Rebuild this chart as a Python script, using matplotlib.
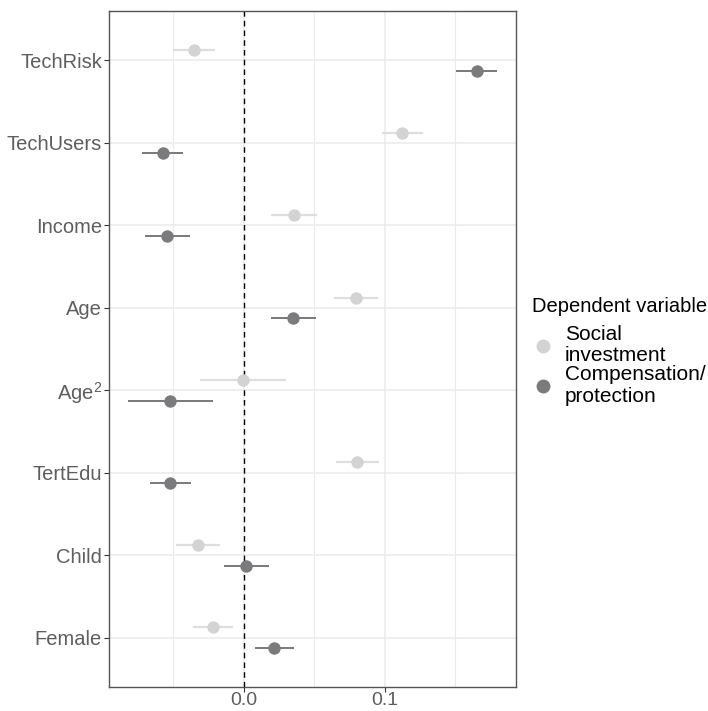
import numpy as np
import matplotlib
matplotlib.use("Agg")
import matplotlib.pyplot as plt
from matplotlib.ticker import FixedLocator
from matplotlib.lines import Line2D

plt.rcParams['font.family'] = ['Liberation Sans', 'DejaVu Sans']
plt.rcParams['mathtext.fontset'] = 'custom'
plt.rcParams['mathtext.rm'] = 'Liberation Sans'

# coefficient estimates, listed top to bottom
terms = ['TechRisk', 'TechUsers', 'Income', 'Age', 'Age$\\mathregular{^2}$',
         'TertEdu', 'Child', 'Female']

social_est = [-0.0352, 0.1123, 0.0352, 0.0797, -0.0010, 0.0804, -0.0326, -0.0218]
social_lo = [-0.0501, 0.0979, 0.0191, 0.0641, -0.0312, 0.0655, -0.0480, -0.0359]
social_hi = [-0.0208, 0.1267, 0.0515, 0.0953, 0.0298, 0.0955, -0.0168, -0.0078]

comp_est = [0.1655, -0.0577, -0.0544, 0.0350, -0.0525, -0.0525, 0.0017, 0.0215]
comp_lo = [0.1507, -0.0721, -0.0702, 0.0194, -0.0825, -0.0667, -0.0140, 0.0076]
comp_hi = [0.1796, -0.0433, -0.0385, 0.0508, -0.0222, -0.0374, 0.0175, 0.0357]

light = '#d3d3d3'
dark = '#7b7b7e'

fig = plt.figure(figsize=(7.08, 7.11), dpi=100)
ax = fig.add_axes([0.154, 0.0335, 0.5748, 0.951])

ypos = np.arange(len(terms), 0, -1)
dodge = 0.125

ax.hlines(ypos + dodge, social_lo, social_hi, color='#dedede', lw=1.6, zorder=3)
ax.scatter(social_est, ypos + dodge, s=80, color=light, zorder=4, linewidths=0)
ax.hlines(ypos - dodge, comp_lo, comp_hi, color='#6e6e70', lw=1.3, zorder=3)
ax.scatter(comp_est, ypos - dodge, s=80, color=dark, zorder=4, linewidths=0)

ax.axvline(0, color='black', lw=1.0, ls=(0, (4, 3)), zorder=2)

ax.set_xlim(-0.0957, 0.1929)
ax.set_ylim(0.4, len(terms) + 0.6)
ax.set_xticks([0.0, 0.1])
ax.set_xticklabels(['0.0', '0.1'])
ax.xaxis.set_minor_locator(FixedLocator([-0.05, 0.05, 0.15]))
ax.set_yticks(ypos)
ax.set_yticklabels(terms)

ax.grid(True, which='major', color='#ebebeb', lw=1.1, zorder=0)
ax.grid(True, which='minor', axis='x', color='#ebebeb', lw=0.8, zorder=0)
ax.set_axisbelow(True)

ax.tick_params(axis='both', which='major', length=3.5, width=0.8, color='#333333',
               labelcolor='#5e5e5e', pad=1.5)
ax.tick_params(axis='y', labelsize=14.5)
ax.tick_params(axis='x', labelsize=14, pad=0.3)
ax.tick_params(axis='x', which='minor', length=0)
for sp in ax.spines.values():
    sp.set_color('#555555')
    sp.set_linewidth(1.0)

handles = [Line2D([], [], ls='', marker='o', ms=9, color=light, mec=light),
           Line2D([], [], ls='', marker='o', ms=9, color=dark, mec=dark)]
leg = ax.legend(handles, ['Social\ninvestment', 'Compensation/\nprotection'],
                title='Dependent variable', loc='center left',
                bbox_to_anchor=(1.02, 0.497), frameon=False, fontsize=15,
                title_fontsize=14.5, alignment='left', handlelength=1.0,
                handletextpad=0.55, labelspacing=0.0, borderaxespad=0.0)
for t in leg.get_texts():
    t.set_linespacing(1.15)
leg._legend_box.sep = 7

fig.savefig('out.png', dpi=100)
